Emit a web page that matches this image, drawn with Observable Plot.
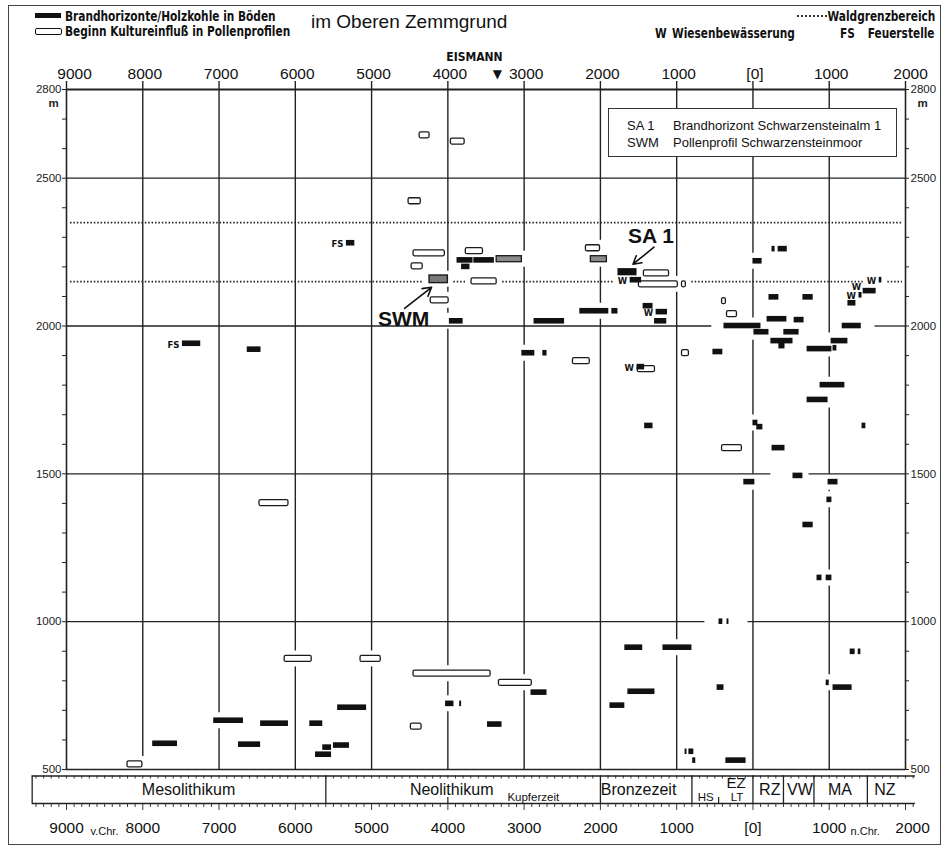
<!DOCTYPE html>
<html><head><meta charset="utf-8">
<script src="https://cdn.jsdelivr.net/npm/d3@7"></script>
<script src="https://cdn.jsdelivr.net/npm/@observablehq/plot@0.6"></script>
<style>
body{margin:0;background:#fff;}
#wrap{position:relative;width:949px;height:850px;overflow:hidden;font-family:"Liberation Sans",Arial,sans-serif;color:#111;background:#fff;}
.abs{position:absolute;line-height:1;white-space:nowrap;}
.cond{font-family:"Liberation Sans Narrow","DejaVu Sans Condensed",sans-serif;font-weight:bold;font-size:14px;transform:scaleX(0.84);}
.l{transform-origin:left center;}
.r{transform-origin:right center;}
#chart{position:absolute;left:0;top:44px;}
#box{position:absolute;left:608px;top:108px;width:289px;height:49px;box-sizing:border-box;border:1.5px solid #333;background:#fff;font-size:13px;padding:8px 0 0 18px;line-height:17px;}
#box span{display:inline-block;width:46px;}
#frame{position:absolute;left:8px;top:5px;width:933px;height:840px;box-sizing:border-box;border:1.5px solid #444;pointer-events:none;}
</style></head><body>
<div id="wrap">
  <div class="abs" style="left:35px;top:13px;width:26px;height:5px;background:#111"></div>
  <div class="abs" style="left:35px;top:28px;width:25px;height:5px;border:1.3px solid #111;border-radius:2px;background:#fff"></div>
  <div class="abs cond l" style="left:65px;top:9px;">Brandhorizonte/Holzkohle in Böden</div>
  <div class="abs cond l" style="left:65px;top:24px;">Beginn Kultureinfluß in Pollenprofilen</div>
  <div class="abs" style="left:311px;top:12px;font-size:19px;">im Oberen Zemmgrund</div>
  <div class="abs" style="left:797px;top:15px;width:30px;height:0;border-top:2px dotted #333"></div>
  <div class="abs cond r" style="right:14px;top:9px;">Waldgrenzbereich</div>
  <div class="abs cond l" style="left:655px;top:26px;">W</div>
  <div class="abs cond l" style="left:672px;top:26px;">Wiesenbewässerung</div>
  <div class="abs cond l" style="left:840px;top:26px;">FS</div>
  <div class="abs cond r" style="right:14px;top:26px;">Feuerstelle</div>
  <div id="chart"></div>
  <div id="box"><div><span>SA 1</span>Brandhorizont Schwarzensteinalm 1</div><div><span>SWM</span>Pollenprofil Schwarzensteinmoor</div></div>
  <div id="frame"></div>
</div>
<script>
// ---------- data ----------
const topTickYears = [-9000,-8000,-7000,-6000,-5000,-4000,-3000,-2000,-1000,0,1000,2000];
const topTickLabels = ["9000","8000","7000","6000","5000","4000","3000","2000","1000","[0]","1000","2000"];
const altTicks = [2800,2500,2000,1500,1000,500];
const gridAlts = [2500,2000,1500,1000];
const treelineAlts = [2350,2150];
const eismannYear = -3350;

// Brandhorizonte / Holzkohle: [from, to, altitude, label]
const charcoal = [
 [-7480,-7240,1940,"FS"],[-6630,-6450,1920],[-5330,-5220,2280,"FS"],
 [-3980,-3800,2016],[-3880,-3670,2222],[-3820,-3710,2200],[-3660,-3390,2222],
 [-2870,-2470,2016],[-2270,-1890,2050],[-1850,-1770,2050],
 [-1610,-1460,2155,"W"],[-1440,-1310,2067],[-1270,-1120,2047,"W"],[-1290,-1130,2016],
 [-3030,-2860,1908],[-2755,-2700,1908],[-1520,-1420,1861,"W"],[-525,-395,1912],
 [0,120,2219],[250,290,2260],[330,450,2260],[210,340,2097],[655,790,2097],
 [-380,105,2000],[13,210,1979],[185,445,2023],[540,670,2020],[405,605,1979],
 [235,525,1949],[340,420,1932],[710,1035,1922],[1050,1100,1925],[1025,1245,1949],
 [1170,1420,2000],[880,1205,1800],[710,985,1750],
 [1655,1690,2155,"W"],[1445,1615,2118,"W"],[1390,1430,2104,"W"],[1245,1350,2077],
 [-1420,-1310,1662],[0,65,1672],[50,130,1658],[1430,1480,1662],[250,420,1587],
 [-120,25,1472],[525,655,1493],[985,1115,1472],[970,1035,1412],[655,790,1327],
 [840,905,1148],[960,1035,1148],[-445,-395,1000],[-340,-315,1000],
 [-1680,-1445,912],[-1180,-800,912],[1275,1340,898],[1380,1415,898],
 [-2910,-2700,760],[-4030,-3920,722],[-3845,-3820,722],[-3480,-3290,652],
 [-1875,-1680,716],[-1640,-1285,763],[-470,-380,777],[-890,-865,560],[-840,-775,560],
 [-790,-750,530],[-355,-90,530],[960,1000,793],[1050,1300,777],
 [-7870,-7545,587],[-7070,-6680,665],[-6745,-6455,584],[-6455,-6090,655],
 [-5810,-5640,655],[-5640,-5525,574],[-5735,-5525,550],[-5500,-5290,581],[-5445,-5065,709]
];
// Beginn Kultureinfluss in Pollenprofilen: [from, to, altitude]
const pollen = [
 [-4370,-4240,2645],[-3960,-3780,2624],[-4515,-4355,2422],[-4450,-4040,2246],
 [-4475,-4330,2202],[-4225,-3990,2087],[-3765,-3540,2253],[-3690,-3360,2151],
 [-2190,-2005,2263],[-1430,-1100,2178],[-1495,-985,2141],[-930,-880,2141],
 [-2360,-2140,1881],[-1510,-1285,1854],[-930,-840,1908],[-405,-355,2084],
 [-340,-210,2040],[-405,-145,1587],[-6470,-6090,1401],[-8200,-8005,517],
 [-6140,-5785,874],[-5145,-4880,874],[-4450,-3440,824],[-4485,-4345,645],[-3330,-2900,793]
];
const pollenGrey = [[-3360,-3030,2226],[-2125,-1915,2226]];
const sa1 = [[-1770,-1520,2182]];
const swm = [[-4240,-4000,2158]];

// gaps of the solid altitude lines: [altitude, from, to]
const hGridGaps = [[2000,-540,1600],[1500,235,735],[1000,-630,-65]];

const periodBounds = [-9450,-5600,-2000,-800,0,400,800,1500];
const periodLabels = ["Mesolithikum","Neolithikum","Kupferzeit","Bronzezeit","EZ","HS","LT","RZ","VW","MA","NZ"];
const periodLabelYears = [-7400,-3950,-2880,-1500,-220,-620,-210,220,615,1140,1730];
const periodLevel = ["main","main","sub","main","top","sub","sub","main","main","main","main"];
const periodMinorTicks = [-4000,-450];
const bandExtent = [-9450,2130];

// ---------- layout ----------
const W = 949, H = 806, ML = 66, MR = 44, MT = 45, MB = 81;
const X0 = -9000, X1 = 2000, Y0 = 500, Y1 = 2800;
const xpx = (X1 - X0) / (W - ML - MR);   // years per pixel
const ypx = (Y1 - Y0) / (H - MT - MB);   // metres per pixel
const SANS = '"Liberation Sans", Arial, sans-serif';
const NARROW = '"Liberation Sans Narrow", "DejaVu Sans Condensed", sans-serif';

const toBar = kind => d => ({x1: d[0], x2: d[1], alt: d[2], label: d[3], kind});
const blackBars = charcoal.map(toBar("b"));
const hollowBars = pollen.map(toBar("h"));
const greyBars = pollenGrey.map(toBar("g"));
const sa1Bars = sa1.map(toBar("sa"));
const swmBars = swm.map(toBar("swm"));
const allBars = [...blackBars, ...hollowBars, ...greyBars, ...sa1Bars, ...swmBars];

// labelled bars; a label is lifted when another labelled bar sits just below it
const labelled = blackBars.filter(d => d.label);
const isLifted = d => labelled.some(o => o !== d && d.alt - o.alt > 0 && d.alt - o.alt < 6 * ypx && Math.abs(d.x1 - o.x1) < 20 * xpx);

function cut(lo, hi, gaps) {
  gaps = gaps.slice().sort((a, b) => a[0] - b[0]);
  const out = []; let cur = lo;
  for (const [a, b] of gaps) { if (a > cur) out.push([cur, a]); cur = Math.max(cur, b); }
  if (cur < hi) out.push([cur, hi]);
  return out;
}
// vertical millennium lines, interrupted around bars
const vSegs = [];
for (const g of d3.range(-8000, 2000, 1000)) {
  const gaps = allBars.filter(b => b.x1 - 2.5 * xpx <= g && g <= b.x2 + 2.5 * xpx)
    .map(b => [b.alt - 8 * ypx, b.alt + 8 * ypx]);
  for (const [a, b] of cut(Y0, Y1, gaps)) vSegs.push({x: g, y1: a, y2: b});
}
// solid horizontal lines
const hSegs = [];
for (const a of gridAlts) {
  const gaps = hGridGaps.filter(g => g[0] === a).map(g => [g[1], g[2]]);
  for (const [p, q] of cut(X0, X1, gaps)) hSegs.push({y: a, x1: p, x2: q});
}
// dotted tree-line lines, interrupted around bars
const dSegs = [];
for (const t of treelineAlts) {
  const gaps = allBars.filter(b => Math.abs(b.alt - t) <= 5 * ypx)
    .map(b => [b.x1 - (b.label ? 16 : 6) * xpx, b.x2 + 6 * xpx]);
  for (const [p, q] of cut(X0 + 4 * xpx, X1 - 3 * xpx, gaps)) dSegs.push({y: t, x1: p, x2: q});
}

const bandTop = Y0 - 6.5 * ypx, bandBot = Y0 - 34 * ypx;
const topIdx = topTickYears.map((d, i) => i);
const bandTicks = d3.range(-9400, 2101, 100);
const idx = periodLabels.map((d, i) => i);

const chart = Plot.plot({
  width: W, height: H,
  marginLeft: ML, marginRight: MR, marginTop: MT, marginBottom: MB,
  x: {domain: [X0, X1], axis: null},
  y: {domain: [Y0, Y1], axis: null},
  style: {fontFamily: SANS, fontSize: "11px", background: "transparent", overflow: "visible"},
  marks: [
    Plot.ruleY(hSegs, {y: "y", x1: "x1", x2: "x2", stroke: "#222", strokeWidth: 1.3}),
    Plot.ruleX(vSegs, {x: "x", y1: "y1", y2: "y2", stroke: "#222", strokeWidth: 1.4}),
    Plot.ruleY(dSegs, {y: "y", x1: "x1", x2: "x2", stroke: "#222", strokeWidth: 1.8, strokeDasharray: "1.5 1.9"}),
    // frame
    Plot.ruleX([X0, X1], {x: d => d, y1: Y0, y2: Y1, stroke: "#222", strokeWidth: 1.6}),
    Plot.ruleY([Y1], {y: d => d, x1: X0, x2: X1, stroke: "#222", strokeWidth: 2.2}),
    Plot.ruleY([Y0], {y: d => d, x1: X0, x2: X1, stroke: "#222", strokeWidth: 1.3}),
    // altitude ticks
    Plot.ruleY(d3.range(500, 2801, 100), {y: d => d, x1: X0 - 4 * xpx, x2: X0, stroke: "#222", strokeWidth: 1}),
    Plot.ruleY(d3.range(500, 2801, 100), {y: d => d, x1: X1, x2: X1 + 4 * xpx, stroke: "#222", strokeWidth: 1}),
    Plot.text(altTicks, {x: X0, y: d => d, text: d => String(d), dx: -5, textAnchor: "end", fontSize: 11.5, fill: "#222"}),
    Plot.text(altTicks, {x: X1, y: d => d, text: d => String(d), dx: 5, textAnchor: "start", fontSize: 11.5, fill: "#222"}),
    Plot.text(["m"], {x: X0, y: Y1, text: d => d, dx: -13, dy: 14, fontSize: 11.5, fontWeight: "bold", fill: "#222"}),
    Plot.text(["m"], {x: X1, y: Y1, text: d => d, dx: 17, dy: 14, fontSize: 11.5, fontWeight: "bold", fill: "#222"}),
    // top time axis
    Plot.ruleX(topTickYears, {x: d => d, y1: Y1, y2: Y1 + 8 * ypx, stroke: "#222", strokeWidth: 1.4}),
    Plot.text(topIdx.filter(i => i > 0 && i < topIdx.length - 1), {x: i => topTickYears[i], y: Y1, dy: -15, dx: 2, text: i => topTickLabels[i], fontSize: 15.5, fill: "#111"}),
    Plot.text([0], {x: i => topTickYears[i], y: Y1, dy: -15, dx: 8, text: i => topTickLabels[i], fontSize: 15.5, fill: "#111"}),
    Plot.text([topIdx.length - 1], {x: i => topTickYears[i], y: Y1, dy: -15, dx: 5, text: i => topTickLabels[i], fontSize: 15.5, fill: "#111"}),
    Plot.text([eismannYear], {x: d => d, y: Y1, dy: -15, text: () => "▼", fontSize: 12, fontFamily: '"DejaVu Sans", sans-serif'}),
    Plot.text([eismannYear], {x: d => d, y: Y1, dy: -32, dx: -23, text: () => "EISMANN", fontSize: 12, fontFamily: NARROW, fontWeight: "bold"}),
    // bars
    Plot.rect(hollowBars, {x1: "x1", x2: "x2", y1: d => d.alt - 3 * ypx, y2: d => d.alt + 3 * ypx, fill: "#fff", stroke: "#1a1a1a", strokeWidth: 1.3, rx: 1.5}),
    Plot.rect(greyBars, {x1: "x1", x2: "x2", y1: d => d.alt - 3 * ypx, y2: d => d.alt + 3 * ypx, fill: "#8a8a8a", stroke: "#1a1a1a", strokeWidth: 1.3}),
    Plot.rect(swmBars, {x1: "x1", x2: "x2", y1: d => d.alt - 3.8 * ypx, y2: d => d.alt + 3.8 * ypx, fill: "#7a7a7a", stroke: "#1a1a1a", strokeWidth: 1.4}),
    Plot.rect(blackBars, {x1: "x1", x2: "x2", y1: d => d.alt - 2.8 * ypx, y2: d => d.alt + 2.8 * ypx, fill: "#111"}),
    Plot.rect(sa1Bars, {x1: "x1", x2: "x2", y1: d => d.alt - 3.6 * ypx, y2: d => d.alt + 3.6 * ypx, fill: "#111"}),
    // W / FS labels
    Plot.text(labelled.filter(d => !isLifted(d)), {x: "x1", y: "alt", text: "label", dx: -3, dy: 1, textAnchor: "end", fontSize: 9.5, fontWeight: "bold", fontFamily: NARROW, fill: "#111"}),
    Plot.text(labelled.filter(isLifted), {x: "x1", y: "alt", text: "label", dx: -2, dy: -4, textAnchor: "end", fontSize: 9.5, fontWeight: "bold", fontFamily: NARROW, fill: "#111"}),
    // SA 1 / SWM annotations
    Plot.arrow(sa1Bars, {x1: d => d.x2 + 17 * xpx, y1: d => d.alt + 25 * ypx, x2: d => d.x2 - 4 * xpx, y2: d => d.alt + 8 * ypx, stroke: "#111", strokeWidth: 1.6, headLength: 9}),
    Plot.text(sa1Bars, {x: "x2", y: "alt", dx: 14, dy: -36, text: () => "SA 1", fontSize: 21, fontWeight: "bold", fill: "#111"}),
    Plot.arrow(swmBars, {x1: d => d.x1 - 25 * xpx, y1: d => d.alt - 29 * ypx, x2: d => d.x1 + 2 * xpx, y2: d => d.alt - 8 * ypx, stroke: "#111", strokeWidth: 1.6, headLength: 9}),
    Plot.text(swmBars, {x: "x1", y: "alt", dx: -26, dy: 40, text: () => "SWM", fontSize: 21, fontWeight: "bold", fill: "#111"}),
    // bottom period band
    Plot.ruleY([bandTop, bandBot], {y: d => d, x1: bandExtent[0], x2: bandExtent[1], stroke: "#222", strokeWidth: 1.5}),
    Plot.ruleX(bandTicks, {x: d => d, y1: bandTop, y2: bandTop - 3 * ypx, stroke: "#222", strokeWidth: 0.9}),
    Plot.ruleX(bandTicks, {x: d => d, y1: bandBot, y2: d => bandBot - (d % 1000 === 0 ? 7 : 4) * ypx, stroke: "#222", strokeWidth: 0.9}),
    Plot.ruleX(periodBounds, {x: d => d, y1: bandTop, y2: bandBot, stroke: "#222", strokeWidth: 1.3}),
    Plot.ruleX(periodMinorTicks, {x: d => d, y1: bandBot, y2: bandBot + 6 * ypx, stroke: "#222", strokeWidth: 1.2}),
    Plot.text(idx.filter(i => periodLevel[i] === "main"), {x: i => periodLabelYears[i], y: bandTop, dy: 14, text: i => periodLabels[i], fontSize: 16, fill: "#111"}),
    Plot.text(idx.filter(i => periodLevel[i] === "top"), {x: i => periodLabelYears[i], y: bandTop, dy: 7, text: i => periodLabels[i], fontSize: 15, fill: "#111"}),
    Plot.text(idx.filter(i => periodLevel[i] === "sub"), {x: i => periodLabelYears[i], y: bandTop, dy: 21, text: i => periodLabels[i], fontSize: 11.5, fill: "#111"}),
    // bottom year labels
    Plot.text(topIdx.filter(i => i < topIdx.length - 1), {x: i => topTickYears[i], y: Y0, dy: 59, text: i => topTickLabels[i], fontSize: 15.5, fill: "#111"}),
    Plot.text([topIdx.length - 1], {x: i => topTickYears[i], y: Y0, dy: 59, dx: 7, text: i => topTickLabels[i], fontSize: 15.5, fill: "#111"}),
    Plot.text(["v.Chr."], {x: X0, y: Y0, dy: 62, dx: 38, text: d => d, fontSize: 11, fill: "#111"}),
    Plot.text(["n.Chr."], {x: 1000, y: Y0, dy: 62, dx: 36, text: d => d, fontSize: 11, fill: "#111"})
  ]
});
document.getElementById("chart").appendChild(chart);
</script>
</body></html>
